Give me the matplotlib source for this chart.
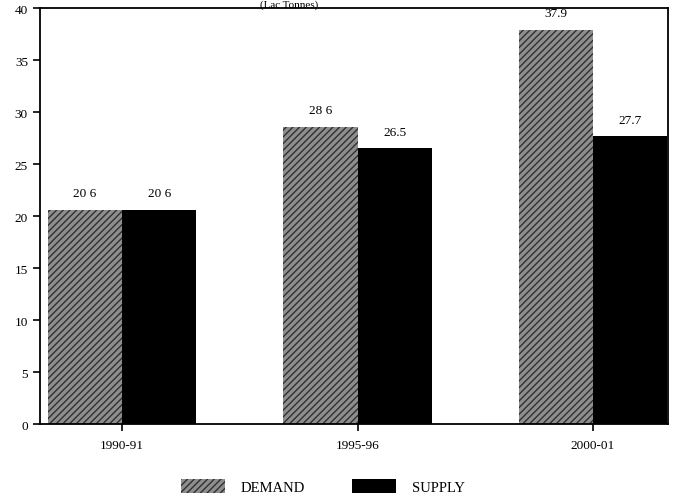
import matplotlib
matplotlib.use('Agg')
import matplotlib.pyplot as plt
import numpy as np

plt.rcParams['font.family'] = ['Liberation Serif', 'DejaVu Serif']
plt.rcParams['hatch.linewidth'] = 1.0

#%% data (Lac Tonnes)
years = ['1990-91', '1995-96', '2000-01']
demand = [20.6, 28.6, 37.9]
supply = [20.6, 26.5, 27.7]
demand_labels = ['20 6', '28 6', '37.9']
supply_labels = ['20 6', '26.5', '27.7']

#%% plot
fig = plt.figure(figsize=(6.73, 5.02), dpi=100)
ax = fig.add_axes([0.059, 0.153, 0.934, 0.829])

x = np.arange(len(years))
w = 0.315

plt.rcParams['hatch.color'] = '#303030'
b1 = ax.bar(x - w/2, demand, w, color='#8e8e8e', hatch='/////', edgecolor='#303030', linewidth=0, label='DEMAND')
b2 = ax.bar(x + w/2, supply, w, color='black', edgecolor='black', linewidth=0, label='SUPPLY')

for xi, v, t in zip(x - w/2, demand, demand_labels):
    ax.text(xi, v + 1.0, t, ha='center', va='bottom', fontsize=9.5)
for xi, v, t in zip(x + w/2, supply, supply_labels):
    ax.text(xi, v + 1.0, t, ha='center', va='bottom', fontsize=9.5)

ax.set_xlim(-0.35, 2.32)
ax.set_ylim(0, 40)
ax.set_yticks(np.arange(0, 41, 5))
ax.set_xticks(x)
ax.set_xticklabels(years)
ax.tick_params(axis='both', direction='out', length=5, width=1.2, labelsize=9.5, colors='black')
ax.tick_params(axis='x', pad=6)
for s in ax.spines.values():
    s.set_linewidth(1.3)
    s.set_color('black')

fig.text(0.43, 0.999, '(Lac Tonnes)', ha='center', va='top', fontsize=8)

fig.legend(handles=[b1, b2], labels=['DEMAND', 'SUPPLY'], loc='lower center',
           bbox_to_anchor=(0.48, -0.012), ncol=2, frameon=False, fontsize=10.5,
           handlelength=3.0, handleheight=1.2, columnspacing=3.2, handletextpad=1.1)

fig.savefig('out.png', dpi=100)
